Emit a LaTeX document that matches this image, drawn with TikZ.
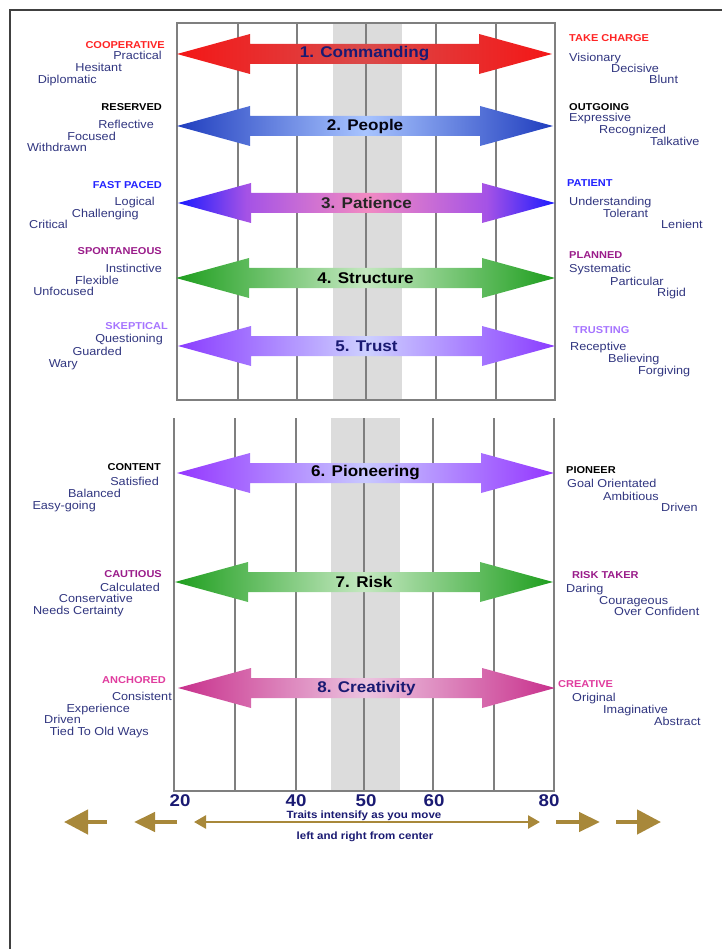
\documentclass[tikz,border=0pt]{standalone}
\usepackage{fontspec}
\setmainfont{Liberation Sans}[FakeStretch=1.1]
\usetikzlibrary{arrows.meta}
\definecolor{trait}{HTML}{30357F}
\definecolor{hdRed}{HTML}{FF2424}
\definecolor{hdBlue}{HTML}{2323FF}
\definecolor{hdPurple}{HTML}{9A1C8A}
\definecolor{hdLilac}{HTML}{A674FF}
\definecolor{hdPink}{HTML}{E03C9E}
\definecolor{navy}{HTML}{1A1A72}
\definecolor{gold}{HTML}{A8883A}
\definecolor{band}{HTML}{DCDCDC}
\definecolor{gridln}{HTML}{7F7F7F}
\definecolor{cmdEnd}{HTML}{F41616}
\definecolor{cmdMid}{HTML}{DA4A4A}
\definecolor{pplEnd}{HTML}{1F3DBE}
\definecolor{pplMid}{HTML}{A8C4FF}
\definecolor{patEnd}{HTML}{1A1AFF}
\definecolor{patVio}{HTML}{A452E6}
\definecolor{patMid}{HTML}{F28AC2}
\definecolor{strEnd}{HTML}{1E9E1E}
\definecolor{strMid}{HTML}{C4E8C0}
\definecolor{truEnd}{HTML}{8A3CFF}
\definecolor{truMid}{HTML}{CDD0FF}
\definecolor{pioEnd}{HTML}{9436FF}
\definecolor{pioMid}{HTML}{C8C8FF}
\definecolor{rskMid}{HTML}{CBECCB}
\definecolor{creEnd}{HTML}{C8308C}
\definecolor{creMid}{HTML}{ECC4E0}
\pgfdeclarehorizontalshading{patience}{100bp}{color(0bp)=(patEnd); color(25bp)=(patEnd);
  color(34bp)=(patVio); color(50bp)=(patMid); color(66bp)=(patVio);
  color(75bp)=(patEnd); color(100bp)=(patEnd)}

\begin{document}
\begin{tikzpicture}[x=1pt, y=-1pt,
    frame/.style={draw=black!75, line width=1.2pt},
    grid/.style={draw=gridln, line width=1.2pt},
    hd/.style={font=\bfseries\fontsize{10}{12}\selectfont, inner sep=0pt,
               text height=7.4pt, text depth=0pt},
    tw/.style={font=\fontsize{11.5}{12}\selectfont, text=trait, inner sep=0pt,
               text height=8.3pt, text depth=2.4pt},
    albl/.style={font=\bfseries\fontsize{15.5}{17}\selectfont, inner sep=0pt},
    num/.style={font=\bfseries\fontsize{17}{19}\selectfont, text=navy, inner sep=0pt},
    note/.style={font=\bfseries\fontsize{10.5}{12}\selectfont, text=navy, inner sep=0pt},
    garr/.style={draw=gold, line width=2.6pt,
                 {Triangle[length=12pt,width=13pt]}-{Triangle[length=12pt,width=13pt]}},
    smarr/.style={draw=gold, line width=4.5pt, -{Triangle[length=21pt,width=19pt]}},
    bigarr/.style={draw=gold, line width=4.5pt, -{Triangle[length=24pt,width=24pt]}},
    shCmd/.style={left color=cmdEnd, right color=cmdEnd, middle color=cmdMid},
    shPpl/.style={left color=pplEnd, right color=pplEnd, middle color=pplMid},
    shPat/.style={shading=patience},
    shStr/.style={left color=strEnd, right color=strEnd, middle color=strMid},
    shTru/.style={left color=truEnd, right color=truEnd, middle color=truMid},
    shPio/.style={left color=pioEnd, right color=pioEnd, middle color=pioMid},
    shRsk/.style={left color=strEnd, right color=strEnd, middle color=rskMid},
    shCre/.style={left color=creEnd, right color=creEnd, middle color=creMid},
  ]
    \useasboundingbox (0,0) rectangle (722,949);
    \draw[frame] (10,949) -- (10,10) -- (722,10);

    % upper scale
    \fill[band] (333,23) rectangle (402,400);
    \foreach \x in {238,297,366,436,496} \draw[grid] (\x,23) -- (\x,400);
    \draw[grid] (177,23) rectangle (555,400);

    % lower scale
    \fill[band] (331,418) rectangle (400,791);
    \foreach \x in {235,296,364,433,494} \draw[grid] (\x,418) -- (\x,791);
    \draw[grid] (174,418) -- (174,791) -- (554,791) -- (554,418);

    % trait arrows
    \foreach \i/\y/\xa/\xb/\sh/\tc/\lbl in {
        1/54/177/552/shCmd/navy/1. Commanding,
        2/126/177/553/shPpl/black!85!navy/2. People,
        3/203/178/555/shPat/black!85/3. Patience,
        4/278/176/555/shStr/black/4. Structure,
        5/346/178/555/shTru/navy/5. Trust,
        6/473/177/554/shPio/black/6. Pioneering,
        7/582/175/553/shStr/black/7. Risk,
        8/688/178/555/shCre/navy/8. Creativity} {
      \shade[\sh] (\xa,\y) -- (\xa+73,\y-20) -- (\xa+73,\y-10) -- (\xb-73,\y-10)
        -- (\xb-73,\y-20) -- (\xb,\y) -- (\xb-73,\y+20) -- (\xb-73,\y+10)
        -- (\xa+73,\y+10) -- (\xa+73,\y+20) -- cycle;
      \node[albl, text=\tc] (arr\i) at ({(\xa+\xb)/2},\y) {\lbl};
    }

    % left side
    \node[hd, text=hdRed, anchor=east] (coop) at (165,45) {COOPERATIVE};
    \node[tw, anchor=east] (coop1) at (162,56.7) {Practical};
    \node[tw, anchor=east] (coop2) at (122,69) {Hesitant};
    \node[tw, anchor=east] (coop3) at (97,80.7) {Diplomatic};

    \node[hd, anchor=east] (res) at (162,106.7) {RESERVED};
    \node[tw, anchor=east] (res1) at (154,125.7) {Reflective};
    \node[tw, anchor=east] (res2) at (116,137.3) {Focused};
    \node[tw, anchor=east] (res3) at (87,149) {Withdrawn};

    \node[hd, text=hdBlue, anchor=east] (fast) at (162,185) {FAST PACED};
    \node[tw, anchor=east] (fast1) at (155,202.3) {Logical};
    \node[tw, anchor=east] (fast2) at (139,214.3) {Challenging};
    \node[tw, anchor=east] (fast3) at (68,226) {Critical};

    \node[hd, text=hdPurple, anchor=east] (spon) at (162,251) {SPONTANEOUS};
    \node[tw, anchor=east] (spon1) at (162,269.3) {Instinctive};
    \node[tw, anchor=east] (spon2) at (119,281.7) {Flexible};
    \node[tw, anchor=east] (spon3) at (94,292.7) {Unfocused};

    \node[hd, text=hdLilac, anchor=east] (skep) at (168,325.7) {SKEPTICAL};
    \node[tw, anchor=east] (skep1) at (163,340) {Questioning};
    \node[tw, anchor=east] (skep2) at (122,352.7) {Guarded};
    \node[tw, anchor=east] (skep3) at (78,364.3) {Wary};

    \node[hd, anchor=east] (cont) at (161,466.7) {CONTENT};
    \node[tw, anchor=east] (cont1) at (159,482.3) {Satisfied};
    \node[tw, anchor=east] (cont2) at (121,495) {Balanced};
    \node[tw, anchor=east] (cont3) at (96,506.7) {Easy-going};

    \node[hd, text=hdPurple, anchor=east] (caut) at (162,573.3) {CAUTIOUS};
    \node[tw, anchor=east] (caut1) at (160,588.3) {Calculated};
    \node[tw, anchor=east] (caut2) at (133,600) {Conservative};
    \node[tw, anchor=east] (caut3) at (124,611.7) {Needs Certainty};

    \node[hd, text=hdPink, anchor=east] (anch) at (166,679.3) {ANCHORED};
    \node[tw, anchor=east] (anch1) at (172,697.3) {Consistent};
    \node[tw, anchor=east] (anch2) at (130,710) {Experience};
    \node[tw, anchor=east] (anch3) at (81,721) {Driven};
    \node[tw, anchor=east] (anch4) at (149,732.7) {Tied To Old Ways};

    % right side
    \node[hd, text=hdRed, anchor=west] (take) at (569,38.3) {TAKE CHARGE};
    \node[tw, anchor=west] (take1) at (569,58.3) {Visionary};
    \node[tw, anchor=west] (take2) at (611,70) {Decisive};
    \node[tw, anchor=west] (take3) at (649,80.7) {Blunt};

    \node[hd, anchor=west] (outg) at (569,106.7) {OUTGOING};
    \node[tw, anchor=west] (outg1) at (569,118.3) {Expressive};
    \node[tw, anchor=west] (outg2) at (599,131) {Recognized};
    \node[tw, anchor=west] (outg3) at (650,142.7) {Talkative};

    \node[hd, text=hdBlue, anchor=west] (pat) at (567,183.3) {PATIENT};
    \node[tw, anchor=west] (pat1) at (569,202.3) {Understanding};
    \node[tw, anchor=west] (pat2) at (603,214.3) {Tolerant};
    \node[tw, anchor=west] (pat3) at (661,226) {Lenient};

    \node[hd, text=hdPurple, anchor=west] (plan) at (569,255) {PLANNED};
    \node[tw, anchor=west] (plan1) at (569,270) {Systematic};
    \node[tw, anchor=west] (plan2) at (610,282.3) {Particular};
    \node[tw, anchor=west] (plan3) at (657,293.3) {Rigid};

    \node[hd, text=hdLilac, anchor=west] (trus) at (573,329.3) {TRUSTING};
    \node[tw, anchor=west] (trus1) at (570,347.7) {Receptive};
    \node[tw, anchor=west] (trus2) at (608,359.3) {Believing};
    \node[tw, anchor=west] (trus3) at (638,371.7) {Forgiving};

    \node[hd, anchor=west] (pion) at (566,469.3) {PIONEER};
    \node[tw, anchor=west] (pion1) at (567,485) {Goal Orientated};
    \node[tw, anchor=west] (pion2) at (603,497.3) {Ambitious};
    \node[tw, anchor=west] (pion3) at (661,508.3) {Driven};

    \node[hd, text=hdPurple, anchor=west] (risk) at (572,574.3) {RISK TAKER};
    \node[tw, anchor=west] (risk1) at (566,589.3) {Daring};
    \node[tw, anchor=west] (risk2) at (599,601.7) {Courageous};
    \node[tw, anchor=west] (risk3) at (614,612.3) {Over Confident};

    \node[hd, text=hdPink, anchor=west] (crea) at (558,683.3) {CREATIVE};
    \node[tw, anchor=west] (crea1) at (572,698.3) {Original};
    \node[tw, anchor=west] (crea2) at (603,710.7) {Imaginative};
    \node[tw, anchor=west] (crea3) at (654,722.3) {Abstract};

    % scale numbers
    \node[num] (n20) at (180,801) {20};
    \node[num] (n40) at (296,801) {40};
    \node[num] (n50) at (366,801) {50};
    \node[num] (n60) at (434,801) {60};
    \node[num] (n80) at (549,801) {80};

    % intensity arrows
    \coordinate (gl) at (194,822);
    \coordinate (gr) at (540,822);
    \draw[garr] (gl) -- (gr);
    \node[note] (note1) at (364,816) {Traits intensify as you move};
    \node[note] (note2) at (365,837) {left and right from center};

    \coordinate (l1s) at (177,822); \coordinate (l1e) at (134,822);
    \coordinate (l2s) at (107,822); \coordinate (l2e) at (64,822);
    \coordinate (r1s) at (556,822); \coordinate (r1e) at (600,822);
    \coordinate (r2s) at (616,822); \coordinate (r2e) at (661,822);
    \draw[smarr] (l1s) -- (l1e);
    \draw[bigarr] (l2s) -- (l2e);
    \draw[smarr] (r1s) -- (r1e);
    \draw[bigarr] (r2s) -- (r2e);
\end{tikzpicture}
\end{document}
